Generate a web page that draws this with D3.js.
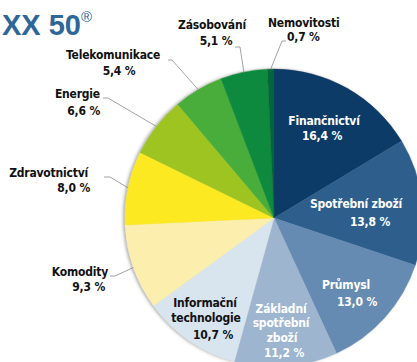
<!DOCTYPE html>
<html>
<head>
<meta charset="utf-8">
<script src="https://cdn.jsdelivr.net/npm/d3@7"></script>
<style>
  html, body { margin: 0; padding: 0; background: #fff; }
  svg { display: block; }
  .lbl { font-family: "Liberation Sans Narrow", "DejaVu Sans Condensed", "Liberation Sans", sans-serif; font-weight: bold; font-size: 12px; letter-spacing: -0.2px; }
</style>
</head>
<body>
<svg id="chart" width="417" height="362"></svg>
<script>
// Sector weights of the index (%), clockwise from 12 o'clock
const sectors = [
  "Finančnictví", "Spotřební zboží", "Průmysl", "Základní spotřební zboží",
  "Informační technologie", "Komodity", "Zdravotnictví", "Energie",
  "Telekomunikace", "Zásobování", "Nemovitosti"
];
const weights = [16.4, 13.8, 13.0, 11.2, 10.7, 9.3, 8.0, 6.6, 5.4, 5.1, 0.7];
const sliceColors = [
  "#0d3a67", "#2f5f8c", "#668bb3", "#9db5cf", "#d8e4ee", "#fcefae",
  "#fde920", "#9ec422", "#4aad3b", "#0c8a3e", "#06663a"
];
const title = "XX 50";

// Label placement: name/value line positions, optional word wrap, leader elbow
const labelLayout = {
  "Finančnictví":            { inside: true, fill: "#fff", lines: [[324, 125], [322, 140]] },
  "Spotřební zboží":         { inside: true, fill: "#fff", lines: [[356, 208], [370, 226]] },
  "Průmysl":                 { inside: true, fill: "#fff", lines: [[346, 289], [357, 306]] },
  "Základní spotřební zboží":{ inside: true, fill: "#fff", wrap: true, lines: [[281, 313], [281, 327], [282, 342], [284, 357]] },
  "Informační technologie":  { inside: true, fill: "#111", wrap: true, lines: [[205, 307], [206, 322], [213, 339]] },
  "Komodity":                { anchor: "end", lines: [[108, 276], [105, 291]], elbow: [[115, 276], [110, 276]] },
  "Zdravotnictví":           { anchor: "end", lines: [[88, 177], [90, 192]], elbow: [[110, 177], [104, 177]] },
  "Energie":                 { anchor: "end", lines: [[100, 98], [100, 115]], elbow: [[108, 98], [103, 98]] },
  "Telekomunikace":          { anchor: "middle", lines: [[113, 59], [119, 75]], elbow: [[172, 60], [168, 60]] },
  "Zásobování":              { anchor: "middle", lines: [[212, 29], [216, 45]], elbow: [[240, 47], [235, 47]] },
  "Nemovitosti":             { anchor: "start", lines: [[268, 27], [287, 41]], elbow: [[282, 41], [286, 41]] }
};

const svg = d3.select("#chart");
const cx = 274, cy = 218, radius = 149;

const defs = svg.append("defs");
const shadow = defs.append("filter").attr("id", "pieShadow")
  .attr("x", "-10%").attr("y", "-10%").attr("width", "120%").attr("height", "120%");
shadow.append("feDropShadow")
  .attr("dx", -2).attr("dy", 0).attr("stdDeviation", 1.6)
  .attr("flood-color", "#555").attr("flood-opacity", 0.45);

const data = sectors.map((name, i) => ({ name, value: weights[i], color: sliceColors[i] }));

const pie = d3.pie().sort(null).value(d => d.value);
const arc = d3.arc().innerRadius(0).outerRadius(radius);
const edgeArc = d3.arc().innerRadius(radius).outerRadius(radius);
const arcs = pie(data);

const g = svg.append("g").attr("transform", `translate(${cx},${cy})`);
g.append("g").attr("filter", "url(#pieShadow)")
  .selectAll("path").data(arcs).join("path")
  .attr("d", arc)
  .attr("fill", d => d.data.color)
  .attr("stroke", d => d.data.color)
  .attr("stroke-width", 0.4);

const fmt = v => d3.format(".1f")(v).replace(".", ",") + " %";

// Leader lines from slice edge to label elbow
const leaders = svg.append("g");
arcs.forEach(a => {
  const L = labelLayout[a.data.name];
  if (!L || L.inside) return;
  const [ex, ey] = edgeArc.centroid(a);
  const pts = [[cx + ex, cy + ey], ...L.elbow];
  leaders.append("path")
    .attr("d", d3.line()(pts))
    .attr("fill", "none")
    .attr("stroke", "#8a8a8a")
    .attr("stroke-width", 0.8);
});

// Labels
const labels = svg.append("g");
arcs.forEach(a => {
  const L = labelLayout[a.data.name];
  const words = L.wrap ? a.data.name.split(" ") : [a.data.name];
  const texts = [...words, fmt(a.data.value)];
  texts.forEach((t, i) => {
    const [x, y] = L.lines[i];
    labels.append("text")
      .attr("class", "lbl")
      .attr("x", x).attr("y", y)
      .attr("text-anchor", L.inside ? "middle" : L.anchor)
      .attr("fill", L.fill || "#111")
      .text(t);
  });
});

// Title
const tt = svg.append("text")
  .attr("x", 2).attr("y", 35)
  .attr("fill", "#2d6699")
  .attr("font-family", "Liberation Sans, Arial, sans-serif")
  .attr("font-weight", "bold")
  .attr("font-size", 29)
  .text(title);
tt.append("tspan").attr("font-size", 15).attr("dy", -13).attr("font-weight", "normal").text("®");
</script>
</body>
</html>
